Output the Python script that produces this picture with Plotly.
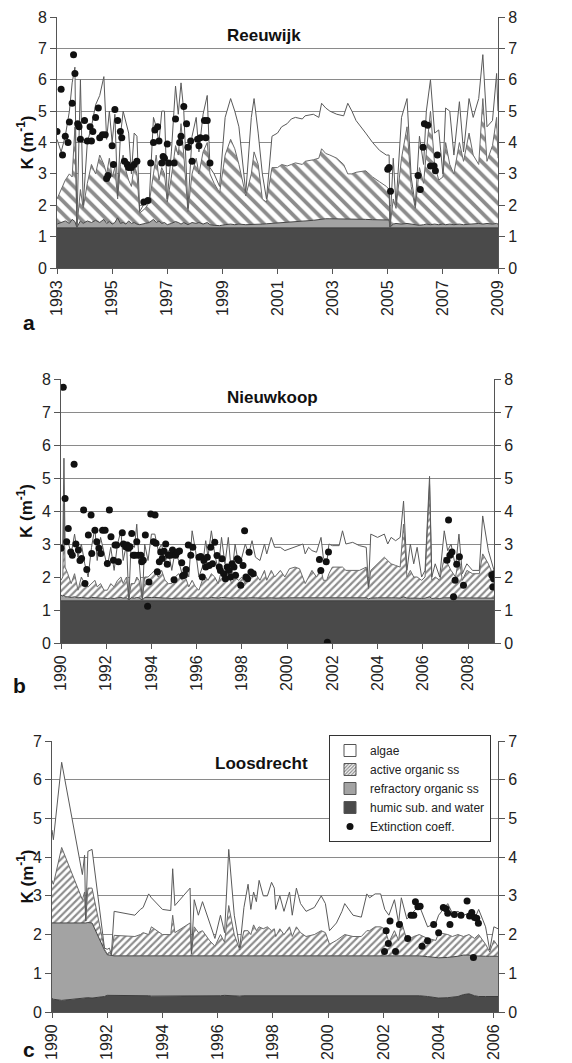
import plotly.graph_objects as go

W, H = 572, 1063

# ---------------- Panel a: Reeuwijk ----------------
A_HUMIC_YEAR = [1993.0, 2009.0]
A_HUMIC = [1.28, 1.28]
A_YEAR = [1993.00, 1993.15, 1993.30, 1993.45, 1993.55, 1993.65, 1993.72, 1993.85, 1993.95, 1994.10,
          1994.25, 1994.40, 1994.55, 1994.70, 1994.80, 1994.90, 1995.00, 1995.10, 1995.20, 1995.30,
          1995.40, 1995.50, 1995.60, 1995.70, 1995.80, 1995.90, 1996.00, 1996.20, 1996.35, 1996.50,
          1996.60, 1996.70, 1996.80, 1996.90, 1997.00, 1997.15, 1997.30, 1997.40, 1997.50, 1997.60,
          1997.75, 1997.90, 1998.05, 1998.15, 1998.30, 1998.45, 1998.55, 1998.70, 1998.90, 1999.10,
          1999.30, 1999.45, 1999.60, 1999.85, 2000.05, 2000.15, 2000.30, 2000.45, 2000.60, 2000.80,
          2001.00, 2001.15, 2001.35, 2001.50, 2001.65, 2001.90, 2002.00, 2002.30, 2002.50, 2002.60,
          2002.75, 2002.90, 2003.15, 2003.40, 2003.55, 2003.70, 2003.85, 2004.20, 2004.45, 2004.70,
          2004.95, 2005.05, 2005.08, 2005.20, 2005.30, 2005.50, 2005.70, 2005.85, 2006.00, 2006.15,
          2006.30, 2006.40, 2006.55, 2006.70, 2006.85, 2007.00, 2007.10, 2007.25, 2007.40, 2007.60,
          2007.75, 2007.95, 2008.10, 2008.30, 2008.45, 2008.60, 2008.80, 2008.95, 2009.00]
A_REFR = [1.40, 1.45, 1.50, 1.42, 1.55, 1.48, 1.30, 1.50, 1.42, 1.50,
          1.45, 1.52, 1.45, 1.55, 1.42, 1.48, 1.40, 1.45, 1.60, 1.42,
          1.45, 1.40, 1.50, 1.42, 1.45, 1.40, 1.38, 1.42, 1.45, 1.55,
          1.45, 1.50, 1.42, 1.45, 1.38, 1.42, 1.48, 1.45, 1.40, 1.45,
          1.38, 1.45, 1.42, 1.45, 1.40, 1.45, 1.38, 1.36, 1.35, 1.38,
          1.40, 1.38, 1.40, 1.38, 1.38, 1.39, 1.40, 1.40, 1.41, 1.42,
          1.43, 1.44, 1.45, 1.46, 1.47, 1.49, 1.50, 1.52, 1.55, 1.56,
          1.57, 1.57, 1.57, 1.56, 1.56, 1.55, 1.55, 1.55, 1.54, 1.54,
          1.53, 1.53, 1.30, 1.40, 1.42, 1.40, 1.42, 1.40, 1.38, 1.36,
          1.38, 1.40, 1.38, 1.40, 1.38, 1.40, 1.38, 1.40, 1.38, 1.40,
          1.38, 1.40, 1.40, 1.42, 1.40, 1.42, 1.40, 1.42, 1.40]
A_ACTIVE = [2.20, 2.50, 2.80, 3.00, 2.90, 4.50, 1.30, 2.50, 1.90, 2.70,
            3.30, 3.00, 3.60, 3.30, 3.00, 3.50, 2.90, 3.20, 2.20, 3.30,
            3.60, 3.10, 2.80, 2.60, 3.30, 3.00, 1.75, 1.90, 2.10, 3.00,
            3.60, 2.80, 3.20, 3.00, 2.10, 2.90, 3.90, 3.60, 4.60, 3.60,
            1.80, 3.00, 3.50, 3.00, 3.70, 4.00, 3.00, 2.70, 2.40, 3.60,
            4.10, 3.80, 3.30, 2.30, 3.00, 3.70, 3.30, 2.20, 2.10, 3.20,
            3.20, 3.30, 3.25, 3.30, 3.35, 3.30, 3.40, 3.45, 3.50, 3.80,
            3.65, 3.60, 3.50, 3.30, 3.00, 3.00, 3.05, 3.10, 2.90, 2.75,
            2.60, 2.50, 1.30, 2.20, 1.90, 3.50, 4.50, 2.60, 1.90, 3.20,
            2.70, 3.70, 5.00, 3.30, 2.80, 2.90, 4.00, 3.30, 3.00, 4.00,
            3.40, 4.30, 3.60, 3.30, 5.40, 3.40, 3.90, 4.80, 3.50]
A_TOTAL = [4.10, 3.70, 4.20, 5.00, 5.90, 6.40, 1.30, 6.00, 2.00, 4.00,
           4.50, 5.20, 5.50, 6.10, 4.10, 5.00, 4.00, 4.90, 2.30, 4.20,
           5.00, 4.60, 4.30, 3.00, 4.30, 4.20, 1.80, 2.10, 2.20, 4.80,
           4.50, 4.00, 5.00, 5.00, 2.20, 3.70, 5.80, 4.90, 5.90, 5.00,
           1.90, 4.20, 4.80, 3.70, 4.90, 5.50, 3.20, 3.00, 2.60, 4.80,
           5.40, 5.00, 4.50, 2.40, 4.80, 5.40, 4.30, 3.00, 2.20, 4.20,
           4.30, 4.50, 4.60, 4.75, 4.80, 4.75, 4.85, 4.90, 4.80, 5.25,
           5.10, 5.00, 4.90, 4.85, 5.25, 5.00, 4.70, 4.30, 4.00, 3.75,
           3.60, 3.60, 1.30, 3.50, 2.00, 4.80, 5.40, 2.90, 2.00, 4.20,
           3.30, 5.00, 6.00, 4.30, 4.40, 3.00, 5.10, 5.00, 3.60, 5.30,
           3.70, 5.40, 4.80, 5.40, 6.80, 4.50, 4.70, 6.20, 5.00]
A_DOT_YEAR = [1993.00, 1993.15, 1993.20, 1993.30, 1993.40, 1993.45, 1993.55, 1993.60, 1993.65, 1993.75,
              1993.80, 1993.85, 1994.00, 1994.10, 1994.20, 1994.25, 1994.30, 1994.40, 1994.50, 1994.55,
              1994.65, 1994.75, 1994.80, 1994.85, 1995.00, 1995.05, 1995.10, 1995.20, 1995.30, 1995.35,
              1995.45, 1995.55, 1995.60, 1995.70, 1995.80, 1995.90, 1996.15, 1996.30, 1996.40, 1996.50,
              1996.55, 1996.65, 1996.70, 1996.80, 1996.85, 1996.90, 1997.00, 1997.05, 1997.25, 1997.30,
              1997.45, 1997.50, 1997.60, 1997.70, 1997.75, 1997.85, 1997.90, 1998.10, 1998.15, 1998.20,
              1998.35, 1998.40, 1998.45, 1998.55, 2005.00, 2005.05, 2005.10, 2006.10, 2006.18, 2006.28,
              2006.33, 2006.45, 2006.55, 2006.68, 2006.73, 2006.80]
A_DOT_K = [4.35, 5.70, 3.60, 4.20, 4.00, 4.65, 5.25, 6.80, 6.20, 4.60,
           4.50, 4.10, 4.70, 4.05, 4.50, 4.05, 4.35, 4.80, 5.10, 4.15,
           4.25, 4.25, 2.85, 2.95, 3.90, 3.30, 5.05, 4.70, 4.35, 4.15,
           3.40, 3.30, 3.20, 3.20, 3.30, 3.40, 2.10, 2.15, 3.35, 4.00,
           4.40, 4.50, 4.05, 3.35, 3.55, 3.50, 3.95, 3.35, 3.35, 4.75,
           4.00, 4.20, 5.15, 4.60, 3.85, 4.05, 3.40, 4.10, 3.90, 4.15,
           4.70, 4.15, 4.70, 3.35, 3.15, 3.20, 2.45, 2.95, 2.50, 3.85,
           4.60, 4.55, 3.25, 3.25, 3.10, 3.60]

# ---------------- Panel b: Nieuwkoop ----------------
B_HUMIC_YEAR = [1990.0, 2009.15]
B_HUMIC = [1.28, 1.28]
B_YEAR = [1990.00, 1990.08, 1990.13, 1990.18, 1990.30, 1990.45, 1990.60, 1990.75, 1990.90, 1991.05,
          1991.20, 1991.35, 1991.50, 1991.60, 1991.75, 1991.90, 1992.05, 1992.20, 1992.35, 1992.50,
          1992.65, 1992.75, 1992.90, 1993.00, 1993.10, 1993.25, 1993.35, 1993.45, 1993.60, 1993.70,
          1993.85, 1994.00, 1994.15, 1994.30, 1994.45, 1994.60, 1994.75, 1994.90, 1995.05, 1995.20,
          1995.35, 1995.50, 1995.65, 1995.80, 1995.95, 1996.10, 1996.25, 1996.40, 1996.50, 1996.65,
          1996.80, 1996.95, 1997.10, 1997.25, 1997.40, 1997.55, 1997.70, 1997.85, 1998.00, 1998.15,
          1998.30, 1998.45, 1998.60, 1998.80, 1999.00, 1999.10, 1999.30, 1999.45, 1999.70, 1999.90,
          2000.10, 2000.35, 2000.55, 2000.70, 2000.80, 2000.95, 2001.10, 2001.30, 2001.50, 2001.60,
          2001.75, 2001.85, 2002.00, 2002.30, 2002.45, 2002.60, 2002.90, 2003.20, 2003.50, 2003.60,
          2003.70, 2004.00, 2004.30, 2004.45, 2004.60, 2004.80, 2005.00, 2005.15, 2005.30, 2005.45,
          2005.60, 2005.75, 2005.95, 2006.10, 2006.30, 2006.40, 2006.55, 2006.75, 2006.95, 2007.10,
          2007.25, 2007.45, 2007.60, 2007.75, 2007.95, 2008.20, 2008.50, 2008.65, 2008.90, 2009.15]
B_REFR = [1.45, 1.42, 1.45, 1.40, 1.40, 1.38, 1.40, 1.37, 1.38, 1.36,
          1.36, 1.38, 1.37, 1.36, 1.37, 1.35, 1.35, 1.36, 1.35, 1.37,
          1.38, 1.36, 1.37, 1.30, 1.37, 1.36, 1.38, 1.37, 1.30, 1.38,
          1.37, 1.38, 1.38, 1.37, 1.38, 1.36, 1.36, 1.35, 1.36, 1.37,
          1.36, 1.36, 1.35, 1.37, 1.36, 1.35, 1.36, 1.37, 1.36, 1.38,
          1.37, 1.36, 1.38, 1.37, 1.38, 1.36, 1.37, 1.36, 1.36, 1.36,
          1.37, 1.38, 1.37, 1.36, 1.37, 1.36, 1.37, 1.36, 1.37, 1.36,
          1.37, 1.37, 1.37, 1.36, 1.35, 1.36, 1.36, 1.36, 1.37, 1.35,
          1.35, 1.36, 1.37, 1.37, 1.37, 1.36, 1.36, 1.36, 1.37, 1.34,
          1.36, 1.37, 1.38, 1.37, 1.37, 1.37, 1.36, 1.40, 1.36, 1.36,
          1.35, 1.36, 1.35, 1.36, 1.40, 1.35, 1.36, 1.35, 1.37, 1.37,
          1.36, 1.35, 1.37, 1.35, 1.36, 1.36, 1.36, 1.37, 1.36, 1.36]
B_ACTIVE = [1.90, 2.00, 4.20, 2.30, 2.10, 1.80, 2.10, 1.60, 2.00, 1.80,
            1.70, 1.80, 1.90, 1.70, 1.80, 1.60, 1.60, 1.80, 1.70, 1.90,
            2.00, 1.80, 2.00, 1.30, 1.80, 1.80, 2.00, 1.90, 1.30, 2.00,
            2.00, 2.10, 2.20, 2.00, 2.20, 1.90, 1.80, 1.80, 2.00, 2.10,
            1.90, 2.00, 1.70, 1.90, 1.70, 1.60, 1.90, 2.00, 1.90, 2.10,
            2.00, 1.80, 2.20, 2.00, 2.10, 1.80, 2.00, 1.90, 2.00, 1.80,
            2.00, 2.20, 2.10, 1.90, 2.20, 1.90, 2.20, 2.00, 2.20, 2.00,
            2.25, 2.30, 2.25, 2.00, 1.80, 2.00, 2.20, 2.00, 2.25, 1.90,
            1.90, 2.10, 2.30, 2.30, 2.30, 2.20, 2.20, 2.20, 2.30, 1.65,
            2.20, 2.40, 2.60, 2.50, 2.40, 2.35, 2.30, 3.60, 2.00, 2.20,
            2.00, 2.00, 1.90, 2.00, 4.80, 1.90, 2.00, 1.90, 2.60, 2.40,
            2.20, 2.00, 2.60, 1.90, 2.20, 2.10, 2.10, 2.70, 2.40, 2.00]
B_TOTAL = [2.90, 3.00, 5.60, 3.00, 3.10, 2.70, 3.30, 2.60, 3.00, 2.40,
           2.00, 2.90, 3.50, 2.50, 3.20, 2.70, 2.30, 2.90, 2.20, 3.00,
           3.40, 2.50, 3.00, 1.30, 3.00, 2.90, 3.60, 2.50, 1.30, 3.00,
           2.50, 3.30, 3.30, 2.80, 3.00, 2.40, 2.80, 2.20, 2.80, 2.50,
           2.10, 2.30, 2.00, 3.40, 2.80, 2.00, 2.30, 3.10, 2.60, 3.40,
           2.70, 2.20, 3.20, 2.40, 3.20, 2.00, 3.00, 2.40, 2.60, 3.00,
           2.70, 3.10, 2.60, 2.50, 3.00, 2.70, 3.20, 2.90, 2.90, 2.80,
           2.85, 2.90, 2.95, 3.00, 2.70, 2.90, 2.80, 2.75, 3.20, 2.60,
           2.40, 3.00, 2.95, 2.95, 3.40, 3.00, 3.05, 2.95, 2.90, 1.70,
           3.30, 3.20, 3.30, 3.00, 3.20, 3.10, 3.20, 4.30, 2.20, 3.00,
           2.40, 2.90, 2.00, 2.20, 5.05, 2.00, 2.40, 2.00, 3.40, 2.80,
           3.00, 2.30, 3.30, 2.10, 2.40, 2.20, 2.20, 3.85, 2.80, 2.20]
B_DOT_YEAR = [1990.00, 1990.10, 1990.18, 1990.25, 1990.32, 1990.43, 1990.50, 1990.58, 1990.66, 1990.77,
              1990.84, 1990.91, 1991.00, 1991.06, 1991.14, 1991.21, 1991.33, 1991.36, 1991.50, 1991.58,
              1991.68, 1991.76, 1991.84, 1991.95, 1992.05, 1992.14, 1992.21, 1992.32, 1992.39, 1992.46,
              1992.54, 1992.71, 1992.76, 1992.86, 1992.93, 1992.98, 1993.05, 1993.13, 1993.20, 1993.27,
              1993.35, 1993.42, 1993.53, 1993.57, 1993.64, 1993.73, 1993.83, 1993.89, 1993.97, 1994.09,
              1994.16, 1994.20, 1994.26, 1994.35, 1994.41, 1994.48, 1994.56, 1994.63, 1994.70, 1994.75,
              1994.85, 1994.93, 1995.00, 1995.07, 1995.15, 1995.24, 1995.34, 1995.38, 1995.46, 1995.53,
              1995.63, 1995.74, 1995.83, 1996.10, 1996.18, 1996.25, 1996.32, 1996.40, 1996.47, 1996.55,
              1996.62, 1996.70, 1996.80, 1996.90, 1997.00, 1997.05, 1997.12, 1997.20, 1997.27, 1997.35,
              1997.42, 1997.50, 1997.57, 1997.65, 1997.72, 1997.80, 1997.87, 1997.95, 1998.05, 1998.12,
              1998.18, 1998.25, 1998.32, 1998.40, 1998.50, 2001.43, 2001.49, 2001.73, 2001.78, 2001.83,
              2007.07, 2007.14, 2007.20, 2007.29, 2007.36, 2007.43, 2007.50, 2007.62, 2007.80, 2009.05,
              2009.10, 2009.13, 2009.17]
B_DOT_K = [2.87, 7.75, 4.38, 3.07, 3.47, 2.76, 2.66, 5.42, 3.00, 2.82,
           2.50, 2.56, 4.03, 1.80, 2.23, 3.27, 3.88, 2.71, 3.42, 3.07,
           2.87, 2.71, 3.42, 3.42, 2.41, 4.03, 3.22, 2.51, 2.97, 2.97,
           2.46, 3.34, 3.00, 2.92, 2.97, 2.87, 2.92, 3.32, 2.66, 2.66,
           3.07, 2.66, 2.66, 2.46, 2.51, 3.27, 1.11, 1.85, 3.91, 3.07,
           3.88, 3.02, 2.16, 2.46, 2.76, 2.56, 2.78, 3.00, 2.39, 2.66,
           2.66, 2.82, 1.92, 2.66, 2.76, 2.79, 2.43, 2.04, 2.06, 2.23,
           2.97, 2.66, 2.90, 2.60, 2.62, 2.00, 2.50, 2.30, 2.60, 2.35,
           2.90, 2.40, 3.05, 2.65, 2.30, 2.20, 2.55, 2.10, 1.95, 2.30,
           2.20, 2.00, 2.40, 2.30, 2.05, 2.55, 2.50, 1.75, 2.35, 3.40,
           2.00, 1.95, 2.75, 2.15, 2.10, 2.53, 2.20, 2.46, 0.02, 2.76,
           2.51, 3.73, 2.66, 2.76, 1.40, 1.90, 2.39, 2.61, 1.75, 2.06,
           1.70, 1.95, 2.10]

# ---------------- Panel c: Loosdrecht ----------------
C_YEAR = [1990.00, 1990.05, 1990.35, 1991.10, 1991.18, 1991.22, 1991.30, 1991.45, 1991.90, 1992.00,
          1992.08, 1992.15, 1992.25, 1993.00, 1993.20, 1993.30, 1993.50, 1993.60, 1994.00, 1994.30,
          1994.37, 1994.45, 1995.00, 1995.05, 1995.15, 1995.30, 1995.45, 1995.70, 1995.90, 1996.10,
          1996.25, 1996.40, 1996.60, 1996.80, 1996.95, 1997.10, 1997.20, 1997.30, 1997.40, 1997.50,
          1997.65, 1997.80, 1997.95, 1998.05, 1998.10, 1998.25, 1998.40, 1998.60, 1998.70, 1998.85,
          1999.00, 1999.20, 1999.50, 1999.75, 1999.90, 2000.05, 2000.30, 2000.50, 2000.60, 2000.90,
          2001.20, 2001.40, 2001.50, 2001.70, 2001.90, 2002.05, 2002.20, 2002.40, 2002.55, 2002.65,
          2002.85, 2003.10, 2003.30, 2003.60, 2003.90, 2004.00, 2004.33, 2004.50, 2004.70, 2004.90,
          2005.10, 2005.30, 2005.45, 2005.70, 2005.85, 2006.00, 2006.15]
C_HUMIC = [0.35, 0.33, 0.30, 0.35, 0.36, 0.37, 0.37, 0.36, 0.40, 0.43,
           0.43, 0.42, 0.42, 0.42, 0.42, 0.42, 0.42, 0.41, 0.41, 0.42,
           0.42, 0.42, 0.42, 0.41, 0.42, 0.42, 0.41, 0.42, 0.42, 0.42,
           0.43, 0.42, 0.42, 0.41, 0.42, 0.42, 0.42, 0.42, 0.42, 0.42,
           0.42, 0.42, 0.42, 0.42, 0.42, 0.42, 0.42, 0.42, 0.42, 0.42,
           0.42, 0.42, 0.42, 0.42, 0.42, 0.42, 0.42, 0.42, 0.42, 0.42,
           0.42, 0.42, 0.42, 0.42, 0.42, 0.42, 0.42, 0.42, 0.42, 0.42,
           0.42, 0.42, 0.42, 0.40, 0.36, 0.36, 0.37, 0.38, 0.40, 0.45,
           0.47, 0.42, 0.40, 0.40, 0.40, 0.40, 0.40]
C_REFR = [2.30, 2.30, 2.29, 2.30, 2.30, 2.30, 2.31, 2.30, 1.60, 1.48,
          1.47, 1.46, 1.45, 1.45, 1.45, 1.45, 1.45, 1.45, 1.45, 1.45,
          1.45, 1.45, 1.45, 1.44, 1.45, 1.45, 1.45, 1.45, 1.45, 1.45,
          1.45, 1.45, 1.45, 1.44, 1.45, 1.45, 1.45, 1.45, 1.45, 1.45,
          1.45, 1.45, 1.45, 1.45, 1.45, 1.45, 1.45, 1.45, 1.45, 1.45,
          1.45, 1.45, 1.45, 1.45, 1.45, 1.45, 1.45, 1.45, 1.45, 1.45,
          1.45, 1.45, 1.45, 1.45, 1.45, 1.45, 1.45, 1.45, 1.45, 1.45,
          1.45, 1.45, 1.45, 1.43, 1.40, 1.40, 1.41, 1.42, 1.44, 1.47,
          1.47, 1.45, 1.44, 1.44, 1.44, 1.44, 1.44]
C_ACTIVE = [3.40, 3.30, 4.25, 2.90, 3.10, 2.35, 3.20, 3.20, 1.62, 1.50,
            1.55, 1.47, 1.98, 1.95, 2.00, 2.05, 2.00, 2.20, 2.00, 2.00,
            2.50, 2.05, 2.30, 1.50, 2.20, 2.05, 2.10, 1.85, 1.70, 2.00,
            1.80, 2.75, 2.00, 1.60, 2.10, 2.10, 2.00, 2.25, 2.10, 2.20,
            2.15, 2.20, 2.10, 2.15, 1.95, 2.15, 2.00, 2.20, 1.95, 2.20,
            2.05, 1.95, 2.00, 2.10, 2.05, 1.75, 1.85, 1.95, 2.00, 1.95,
            1.95, 2.10, 2.10, 2.20, 2.20, 2.15, 1.80, 2.10, 1.85, 2.35,
            1.85, 1.95, 2.00, 1.90, 1.85, 2.05, 2.00, 1.95, 2.00, 1.95,
            2.00, 1.90, 2.00, 1.75, 1.55, 1.85, 1.70]
C_TOTAL = [4.70, 4.45, 6.45, 3.55, 4.05, 2.35, 4.15, 4.20, 1.65, 1.62,
           1.65, 1.48, 2.60, 2.50, 2.65, 2.70, 3.05, 2.95, 2.65, 2.62,
           3.70, 2.75, 3.20, 1.50, 2.90, 2.50, 2.85, 2.30, 1.90, 2.50,
           2.05, 4.20, 2.50, 1.65, 2.70, 3.30, 2.65, 3.10, 2.85, 3.40,
           3.00, 3.00, 3.35, 3.20, 2.65, 3.00, 2.60, 3.10, 2.50, 3.20,
           2.80, 2.60, 2.70, 3.00, 2.80, 2.10, 2.30, 2.60, 2.80, 2.50,
           2.45, 3.05, 2.95, 3.05, 3.05, 2.65, 2.50, 2.90, 2.30, 2.95,
           2.40, 2.60, 2.75, 2.20, 2.30, 2.50, 2.80, 2.55, 2.60, 2.50,
           2.55, 2.40, 2.65, 2.20, 1.60, 2.20, 2.15]
C_DOT_YEAR = [2002.04, 2002.10, 2002.18, 2002.24, 2002.44, 2002.58, 2002.88, 2003.00, 2003.10, 2003.16,
              2003.25, 2003.33, 2003.40, 2003.60, 2003.82, 2004.00, 2004.17, 2004.27, 2004.33, 2004.41,
              2004.57, 2004.81, 2005.03, 2005.12, 2005.20, 2005.26, 2005.30, 2005.38, 2005.44]
C_DOT_K = [1.56, 2.10, 1.77, 2.35, 1.56, 2.26, 1.90, 2.50, 2.50, 2.85,
           2.72, 2.73, 1.70, 1.84, 2.26, 2.05, 2.70, 2.67, 2.55, 2.26,
           2.52, 2.50, 2.87, 2.48, 2.57, 1.41, 2.44, 2.42, 2.29]

A_TICKS = [1993, 1995, 1997, 1999, 2001, 2003, 2005, 2007, 2009]
B_TICKS = [1990, 1992, 1994, 1996, 1998, 2000, 2002, 2004, 2006, 2008]
C_TICKS = [1990, 1992, 1994, 1996, 1998, 2000, 2002, 2004, 2006]

NAMES = ["humic sub. and water", "refractory organic ss", "active organic ss", "algae", "Extinction coeff."]

FONT = "Liberation Sans, Arial, sans-serif"
HUMIC_COLOR = "#4a4a4a"
REFR_COLOR = "#a3a3a3"
EDGE = "#5a5a5a"


def panel(xa, ya, hx, hy, yr, refr, act, tot, dx, dy, shape, psize):
    for arr in (refr, act, tot):
        assert len(arr) == len(yr)
    assert len(dx) == len(dy)
    common = dict(xaxis=xa, yaxis=ya, mode="lines", hoverinfo="skip", showlegend=False)
    fig.add_trace(go.Scatter(x=hx, y=hy, fill="tozeroy", fillcolor=HUMIC_COLOR,
                             line=dict(color="#3c3c3c", width=1), name=NAMES[0], **common))
    fig.add_trace(go.Scatter(x=yr, y=refr, fill="tonexty", fillcolor=REFR_COLOR,
                             line=dict(color="#444", width=1), name=NAMES[1], **common))
    fig.add_trace(go.Scatter(x=yr, y=act, fill="tonexty",
                             fillpattern=dict(shape=shape, fgcolor="#8c8c8c", bgcolor="white",
                                              size=psize, solidity=0.42),
                             line=dict(color="#6a6a6a", width=1), name=NAMES[2], **common))
    fig.add_trace(go.Scatter(x=yr, y=tot, fill="tonexty", fillcolor="white",
                             line=dict(color=EDGE, width=1), name=NAMES[3], **common))
    fig.add_trace(go.Scatter(x=dx, y=dy, xaxis=xa, yaxis=ya, mode="markers",
                             marker=dict(color="#111", size=7), name=NAMES[4],
                             showlegend=(xa == "x3"), legendrank=5, hoverinfo="skip"))


fig = go.Figure()
panel("x", "y", A_HUMIC_YEAR, A_HUMIC, A_YEAR, A_REFR, A_ACTIVE, A_TOTAL,
      A_DOT_YEAR, A_DOT_K, "\\", 9)
panel("x2", "y2", B_HUMIC_YEAR, B_HUMIC, B_YEAR, B_REFR, B_ACTIVE, B_TOTAL,
      B_DOT_YEAR, B_DOT_K, "/", 5)
panel("x3", "y3", C_YEAR, C_HUMIC, C_YEAR, C_REFR, C_ACTIVE, C_TOTAL,
      C_DOT_YEAR, C_DOT_K, "/", 5)

# legend-only square swatches (zero-height bars on panel c)
SWATCH = [(NAMES[3], "white", None, 1), (NAMES[2], "white", "/", 2),
          (NAMES[1], REFR_COLOR, None, 3), (NAMES[0], HUMIC_COLOR, None, 4)]
for name, col, pat, rank in SWATCH:
    mk = dict(color=col, line=dict(color="#555", width=1))
    if pat:
        mk["pattern"] = dict(shape=pat, fgcolor="#888", bgcolor="white", size=3, solidity=0.5)
    fig.add_trace(go.Bar(x=[C_YEAR[0]], y=[0], xaxis="x3", yaxis="y3", marker=mk, name=name,
                         legendrank=rank, showlegend=True, hoverinfo="skip", width=0.001))

# invisible traces so the mirrored right-hand axes are drawn
for xa, ya, xs, ys in (("x", "y4", A_YEAR, A_TOTAL), ("x2", "y5", B_YEAR, B_TOTAL),
                       ("x3", "y6", C_YEAR, C_TOTAL)):
    fig.add_trace(go.Scatter(x=xs, y=ys, xaxis=xa, yaxis=ya, mode="lines",
                             line=dict(width=0, color="rgba(0,0,0,0)"), showlegend=False,
                             hoverinfo="skip"))


def fx(p):
    return p / W


def fy(p):
    return 1 - p / H


tickfont = dict(family=FONT, size=16, color="#222")


def xax(dom, rng, ticks, anchor):
    return dict(domain=dom, range=rng, tickvals=ticks, ticktext=[str(t) for t in ticks],
                tickangle=-90, ticks="outside", ticklen=5, tickcolor="#555",
                showline=True, linecolor="#555", linewidth=1, showgrid=False, zeroline=False,
                tickfont=tickfont, anchor=anchor, fixedrange=True, automargin=False)


def yax(dom, top, anchor, side="left", overlay=None):
    d = dict(domain=dom, range=[0, top], dtick=1, ticks="outside", ticklen=6, tickcolor="#555",
             showline=True, linecolor="#555", linewidth=1, zeroline=False, tickfont=tickfont,
             anchor=anchor, side=side, fixedrange=True, automargin=False)
    if overlay:
        d.update(overlaying=overlay, showgrid=False)
    else:
        d.update(showgrid=True, gridcolor="#8a8a8a", gridwidth=1)
    return d


A_X = [fx(57), fx(498)]
B_X = [fx(61), fx(494)]
C_X = [fx(52), fx(498)]
A_Y = [fy(268), fy(17)]
B_Y = [fy(643), fy(379)]
C_Y = [fy(1012), fy(741)]

fig.update_layout(
    template="none",
    width=W, height=H,
    margin=dict(l=0, r=0, t=0, b=0, autoexpand=False),
    paper_bgcolor="white", plot_bgcolor="white",
    font=dict(family=FONT, color="#222"),
    xaxis=xax(A_X, [1993, 2009], A_TICKS, "y"),
    xaxis2=xax(B_X, [1990, 2009.15], B_TICKS, "y2"),
    xaxis3=xax(C_X, [1990, 2006.15], C_TICKS, "y3"),
    yaxis=yax(A_Y, 8, "x"),
    yaxis2=yax(B_Y, 8, "x2"),
    yaxis3=yax(C_Y, 7, "x3"),
    yaxis4=yax(A_Y, 8, "x", side="right", overlay="y"),
    yaxis5=yax(B_Y, 8, "x2", side="right", overlay="y2"),
    yaxis6=yax(C_Y, 7, "x3", side="right", overlay="y3"),
    showlegend=True,
    legend=dict(x=fx(329), y=fy(735), xanchor="left", yanchor="top",
                bgcolor="white", bordercolor="#333", borderwidth=1,
                font=dict(family=FONT, size=12, color="#222"),
                itemwidth=30, tracegroupgap=0, traceorder="normal"),
)

ann = []
for txt, x, y in (("Reeuwijk", 264, 36), ("Nieuwkoop", 272, 397), ("Loosdrecht", 261, 763)):
    ann.append(dict(text="<b>%s</b>" % txt, x=fx(x), y=fy(y), xref="paper", yref="paper",
                    xanchor="center", yanchor="middle",
                    showarrow=False, font=dict(family=FONT, size=17, color="#111")))
for y in (142.5, 511, 876.5):
    ann.append(dict(text="<b>K (m<sup>-1</sup>)</b>", x=fx(25), y=fy(y), xref="paper", yref="paper",
                    xanchor="center", yanchor="middle",
                    showarrow=False, textangle=-90, font=dict(family=FONT, size=17, color="#111")))
for txt, x, y in (("a", 29, 323), ("b", 19, 685), ("c", 29, 1049)):
    ann.append(dict(text="<b>%s</b>" % txt, x=fx(x), y=fy(y), xref="paper", yref="paper",
                    xanchor="center", yanchor="middle",
                    showarrow=False, font=dict(family=FONT, size=21, color="#111")))
fig.update_layout(annotations=ann)

fig.write_html("out.html", config={"displayModeBar": False},
               post_script="document.body.style.margin='0px';document.body.style.overflow='hidden';")
